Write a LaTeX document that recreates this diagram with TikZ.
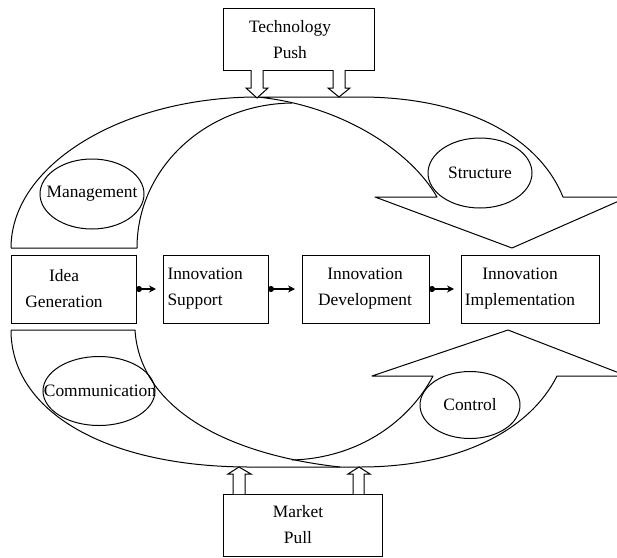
\documentclass[tikz,border=0pt]{standalone}
\usepackage{fontspec}
\setmainfont{Liberation Serif}
\usetikzlibrary{shapes.geometric,arrows.meta}
\begin{document}
\begin{tikzpicture}[x=1pt,y=-1pt,line width=1pt,
  font=\fontsize{17.4}{26}\selectfont,
  boxnode/.style={draw,inner sep=0pt,outer sep=0pt,line width=1pt},
  txt/.style={inner sep=0pt,align=center},
  oval/.style={draw,ellipse,inner sep=0pt,line width=1pt},
  band/.style={line width=1pt,line join=round},
  hollow/.style={draw,fill=white,line width=1pt,line join=miter},
  conn/.style={line width=1.6pt,{Circle[length=6pt,width=6pt]}-{Stealth[length=7pt,width=7pt]}}]
\useasboundingbox (0,0) rectangle (617,557);
\clip (0,0) rectangle (617,557);

% upper band (Management / Structure arrow)
\draw[band] (11,248) .. controls (11,165) and (122,97) .. (258,97) -- (360,97)
  .. controls (470,97) and (540,140) .. (563,197) -- (628,197) -- (512,248)
  -- (375,197) -- (437,197) .. controls (410,150) and (340,105) .. (257,97);
\draw[band] (11,248) -- (137,248) .. controls (137,168) and (206,104) .. (292,103);

% lower band (Communication / Control arrow)
\draw[band] (11,330) .. controls (11,412) and (107,467) .. (250,467) -- (360,467)
  .. controls (460,467) and (530,430) .. (557,376) -- (627,376) -- (508,330)
  -- (372,376) -- (433,376) .. controls (410,420) and (360,458) .. (292,460);
\draw[band] (11,330) -- (135,330) .. controls (140,410) and (230,455) .. (340,467);

% ovals
\node[oval,minimum width=104pt,minimum height=70pt] (mgmt) at (92,194) {};
\node[txt] (mgmtt) at (92,194) {Management};
\node[oval,minimum width=104pt,minimum height=70pt] (struct) at (480,173) {};
\node[txt] (structt) at (480,173) {Structure};
\node[oval,minimum width=112pt,minimum height=69pt] (comm) at (99,391) {};
\node[txt] (commt) at (100,391) {Communication};
\node[oval,minimum width=100pt,minimum height=67pt] (ctrl) at (470,405) {};
\node[txt] (ctrlt) at (470,405) {Control};

% boxes
\node[boxnode,minimum width=151pt,minimum height=62pt] (tech) at (298.5,39) {};
\node[txt] (techt) at (290,40) {Technology\\Push};
\node[boxnode,minimum width=159pt,minimum height=62pt] (market) at (302.5,525) {};
\node[txt] (markett) at (298,525) {Market\\Pull};

\node[boxnode,minimum width=125pt,minimum height=68pt] (idea) at (73.5,289) {};
\node[txt] (ideat) at (64,289) {Idea\\Generation};
\node[boxnode,minimum width=105pt,minimum height=68pt] (supp) at (215.5,289) {};
\node[txt,align=left,anchor=west] (suppt) at (167,289) {Innovation\\Support};
\node[boxnode,minimum width=127pt,minimum height=68pt] (dev) at (365.5,289) {};
\node[txt] (devt) at (365,289) {Innovation\\Development};
\node[boxnode,minimum width=138pt,minimum height=68pt] (impl) at (530,289) {};
\node[txt] (implt) at (520,289) {Innovation\\Implementation};

% connectors
\draw[conn] (idea.east) -- ([xshift=-7pt]supp.west);
\draw[conn] (supp.east) -- ([xshift=-7pt]dev.west);
\draw[conn] (dev.east) -- ([xshift=-7pt]impl.west);

% hollow push arrows
\draw[hollow] (251,70) -- (251,88) -- (246,88) -- (257,98) -- (268,88) -- (263,88) -- (263,70);
\draw[hollow] (333,70) -- (333,88) -- (328,88) -- (339,97) -- (350,88) -- (345,88) -- (345,70);
% hollow pull arrows
\draw[hollow] (233,494) -- (233,474) -- (228,474) -- (239,467) -- (251,474) -- (245,474) -- (245,494);
\draw[hollow] (353,494) -- (353,474) -- (348,474) -- (359,467) -- (370,474) -- (364,474) -- (364,494);
\end{tikzpicture}
\end{document}
